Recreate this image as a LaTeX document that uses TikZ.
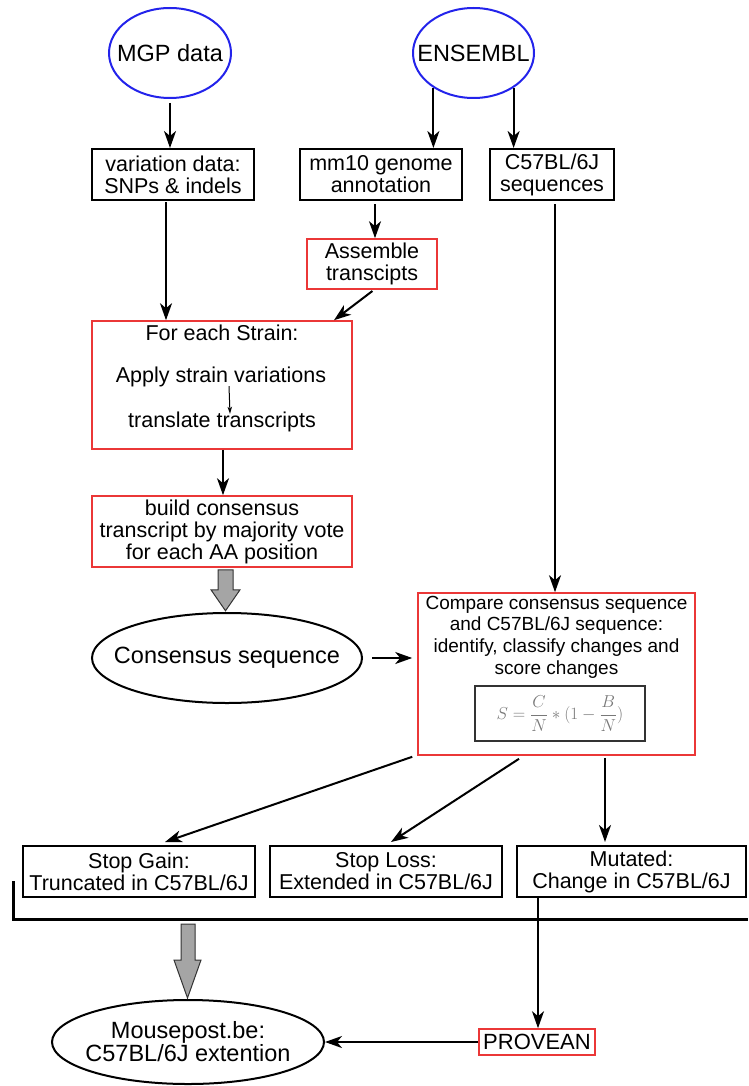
\documentclass[tikz,border=0pt]{standalone}
\usepackage{fontspec}
\setmainfont{Liberation Sans}
\usetikzlibrary{arrows.meta,shapes.geometric,calc}
\definecolor{cblue}{RGB}{35,35,235}
\definecolor{cred}{RGB}{235,55,55}
\definecolor{cgray}{RGB}{165,165,165}
\definecolor{fgray}{RGB}{120,120,120}
\begin{document}
\begin{tikzpicture}[x=1pt,y=1pt,
  arr/.style={line width=2pt,-{Stealth[length=17pt,width=12pt,inset=5pt]}},
  thinarr/.style={line width=1pt,-{Stealth[length=7pt,width=4.5pt,inset=2pt]}},
  src/.style={ellipse,draw=cblue,line width=2pt,inner sep=0pt},
  oval/.style={ellipse,draw=black,line width=2pt,inner sep=0pt},
  ltxt/.style={inner sep=0pt,align=center,font=\fontsize{23.5}{21}\selectfont},
  bbox/.style={rectangle,draw=black,line width=2pt,inner sep=0pt,align=center,font=\fontsize{21.5}{22}\selectfont},
  rbox/.style={rectangle,draw=cred,line width=1.6pt,inner sep=0pt,align=center,font=\fontsize{21.5}{22}\selectfont},
  txt/.style={inner sep=0pt,align=center,font=\fontsize{21.5}{22}\selectfont},
  block/.style={fill=cgray,draw=black!80,line width=1pt}
]
\useasboundingbox (0,0) rectangle (748,-1086);

% sources
\node[src,minimum width=122pt,minimum height=90pt,label={[ltxt]center:MGP data}] (mgp) at (170,-53) {};
\node[src,minimum width=121pt,minimum height=90pt,label={[ltxt]center:ENSEMBL}] (ens) at (473.5,-53) {};

% first row
\node[bbox,minimum width=162pt,minimum height=51pt] (var) at (173,-174.5) {variation data:\\SNPs \& indels};
\node[bbox,minimum width=162pt,minimum height=51pt] (mm10) at (381,-174.5) {mm10 genome\\annotation};
\node[bbox,minimum width=124pt,minimum height=51pt] (c57) at (552,-174.5) {C57BL/6J\\sequences};

\node[rbox,minimum width=130pt,minimum height=50pt] (asm) at (372,-264) {Assemble\\transcipts};

% for each strain
\node[rbox,minimum width=260pt,minimum height=128pt] (each) at (222,-385) {};
\node[txt] (eachA) at (222,-333) {For each Strain:};
\node[txt] (eachB) at (221,-377) {Apply strain variations};
\node[txt] (eachC) at (222,-422) {translate transcripts};

\node[rbox,minimum width=260pt,minimum height=71pt] (build) at (222,-531.5) {build consensus\\transcript by majority vote\\for each AA position};

\node[oval,minimum width=270pt,minimum height=90pt,label={[ltxt]center:Consensus sequence}] (cons) at (227,-658) {};

% compare
\node[rbox,minimum width=277pt,minimum height=162pt] (cmp) at (556.5,-674) {};
\node[inner sep=0pt,align=center,font=\fontsize{19}{21.7}\selectfont] (cmpt) at (556.5,-637) {Compare consensus sequence\\and C57BL/6J sequence:\\identify, classify changes and\\score changes};
\node[draw=black!80,line width=1.5pt,minimum width=170pt,minimum height=55pt,inner sep=0pt,text=fgray,font=\fontsize{17.5}{20}\selectfont] (form) at (560,-713.5) {$\displaystyle S=\frac{C}{N}*(1-\frac{B}{N})$};

% outcomes
\node[bbox,minimum width=232pt,minimum height=51pt] (sg) at (139,-871.5) {Stop Gain:\\Truncated in C57BL/6J};
\node[bbox,minimum width=232pt,minimum height=51pt] (sl) at (386,-871.5) {Stop Loss:\\Extended in C57BL/6J};
\node[bbox,minimum width=229pt,minimum height=51pt] (mut) at (631.5,-871.5) {Mutated:\\Change in C57BL/6J};

\node[rbox,minimum width=116pt,minimum height=26pt,font=\fontsize{22}{22}\selectfont] (prov) at (537,-1042) {PROVEAN};
\node[oval,minimum width=272pt,minimum height=84pt,label={[ltxt]center:Mousepost.be:\\C57BL/6J extention}] (mp) at (188,-1042) {};

% connectors
\draw[arr,shorten <=4pt] (mgp.south) -- (mgp.south |- var.north);
\draw[arr] (ens.-139) -- (ens.-139 |- mm10.north);
\draw[arr] (ens.-41) -- (ens.-41 |- c57.north);
\draw[arr,shorten <=3pt] ([xshift=-6pt]mm10.south) -- ([xshift=-6pt]mm10.south |- asm.north);
\draw[arr,shorten <=1pt] ([xshift=-7pt]var.south) -- ([xshift=-7pt]var.south |- each.north);
\draw[arr,shorten <=2pt] ([xshift=2pt]asm.south) -- ([xshift=112pt]each.north);
\draw[thinarr] ([xshift=8pt,yshift=1pt]eachB.south) -- ([xshift=8pt,yshift=-2pt]eachC.north);
\draw[arr] ([xshift=1pt]each.south) -- ([xshift=1pt]each.south |- build.north);
\draw[arr,shorten <=3pt] ([xshift=3pt]c57.south) -- ([xshift=3pt]c57.south |- cmp.north);
\draw[arr,shorten <=9pt,shorten >=5pt] (cons.east) -- (cons.east -| cmp.west);
\draw[arr] ([xshift=-5pt,yshift=-1pt]cmp.south west) -- ([xshift=26pt,yshift=3pt]sg.north);
\draw[arr] ([xshift=-37.5pt,yshift=-3pt]cmp.south) -- ([xshift=5pt,yshift=3pt]sl.north);
\draw[arr] ([xshift=48.5pt,yshift=-2pt]cmp.south) -- ([xshift=48.5pt,yshift=3pt]cmp.south |- mut.north);
\draw[arr] ([xshift=-93.5pt]mut.south) -- ([xshift=-93.5pt]mut.south |- prov.north);
\draw[arr] (prov.west) -- (mp.east);

% bracket
\coordinate (bl) at (13,-881);
\coordinate (br) at (748,-919);
\draw[line width=3pt] (bl) -- (bl |- br) -- (br);

% gray block arrows
\coordinate (g1) at ([xshift=3.5pt,yshift=-2pt]build.south);
\filldraw[block] (g1) ++(-7.5,0) -- ++(15,0) -- ++(0,-20) -- ++(7,0) -- ++(-14.5,-21) -- ++(-14.5,21) -- ++(7,0) -- cycle;
\coordinate (g2) at (188,-924);
\filldraw[block] (g2) ++(-7,0) -- ++(14,0) -- ++(0,-36) -- ++(6,0) -- ++(-13.5,-38) -- ++(-13.5,38) -- ++(7,0) -- cycle;

\end{tikzpicture}
\end{document}
